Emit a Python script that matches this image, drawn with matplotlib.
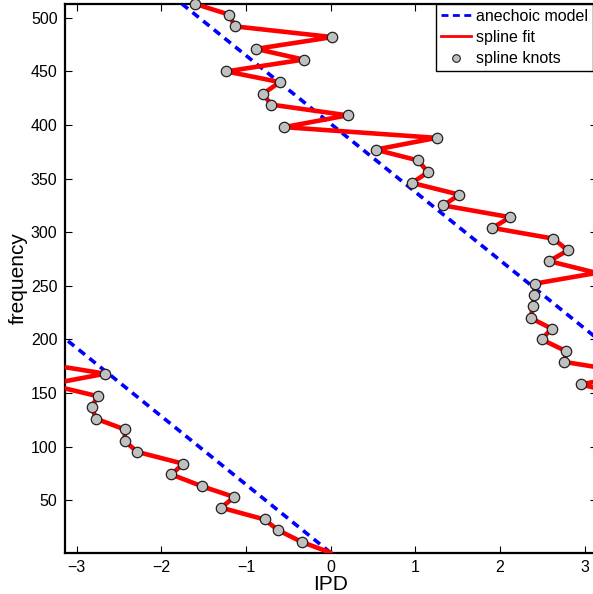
import numpy as np
import matplotlib
matplotlib.use("Agg")
import matplotlib.pyplot as plt
from matplotlib.lines import Line2D

plt.rcParams['font.family'] = ['Liberation Sans', 'DejaVu Sans']

# spline fit points (frequency bin, wrapped IPD)
# the first point (bin 1) is the fixed start, the rest are knots
knot_freq = [1, 11, 22, 32, 43, 53, 63, 74, 84, 95,
             105, 116, 126, 137, 147, 158, 168, 179, 189, 200,
             210, 220, 231, 241, 252, 262, 273, 283, 294, 304,
             314, 325, 335, 346, 356, 367, 377, 388, 398, 409,
             419, 429, 440, 450, 461, 471, 482, 492, 503, 513]
knot_ipd = [0.0, -0.34, -0.62, -0.78, -1.29, -1.14, -1.52, -1.88, -1.74, -2.28,
            -2.43, -2.43, -2.77, -2.82, -2.75, 2.95, -2.66, 2.76, 2.78, 2.49,
            2.61, 2.36, 2.39, 2.40, 2.41, 3.14, 2.58, 2.80, 2.63, 1.91,
            2.12, 1.33, 1.52, 0.96, 1.15, 1.03, 0.53, 1.25, -0.55, 0.20,
            -0.70, -0.80, -0.60, -1.23, -0.32, -0.88, 0.02, -1.13, -1.20, -1.60]

# anechoic model: IPD slope per frequency bin
anechoic_slope = -0.0157
freq_range = [1, 513]

fig = plt.figure(figsize=(5.93, 5.94), dpi=100)
ax = fig.add_axes([0.1088, 0.0695, 0.8975, 0.9240])

# anechoic model, wrapped to [-pi, pi]
f = np.arange(freq_range[0], freq_range[1] + 1, dtype=float)
a = np.angle(np.exp(1j * anechoic_slope * (f - freq_range[0])))
a[np.r_[False, np.abs(np.diff(a)) > np.pi]] = np.nan
ax.plot(a, f, color='#0000ff', lw=2.6, ls=(0, (2.2, 1.6)), zorder=3)

# spline fit: split into pieces where the phase wraps
pieces = [[(knot_ipd[0], knot_freq[0])]]
for i in range(1, len(knot_ipd)):
    x0, x1 = knot_ipd[i - 1], knot_ipd[i]
    shift = 2 * np.pi * np.round((x1 - x0) / (2 * np.pi))
    if shift == 0:
        pieces[-1].append((x1, knot_freq[i]))
    else:
        pieces[-1].append((x1 - shift, knot_freq[i]))
        pieces.append([(x0 + shift, knot_freq[i - 1]), (x1, knot_freq[i])])
for p in pieces:
    p = np.array(p)
    ax.plot(p[:, 0], p[:, 1], color='#ff0000', lw=3.3,
            solid_joinstyle='round', solid_capstyle='round', zorder=4)

kx = np.array(knot_ipd[1:])
kf = np.array(knot_freq[1:])
vis = np.abs(kx) < 3.13
ax.plot(kx[vis], kf[vis], 'o', ms=7.5, mfc='#c0c0c0', mec='#202020', mew=0.9,
        zorder=5, clip_on=False)

ax.set_xlim(-np.pi, np.pi)
ax.set_ylim(1, 513)
ax.set_xticks([-3, -2, -1, 0, 1, 2, 3])
ax.set_yticks([50, 100, 150, 200, 250, 300, 350, 400, 450, 500])
ax.tick_params(direction='in', top=True, right=True, length=5, width=0.8,
               labelsize=11.5, pad=5)
for s in ax.spines.values():
    s.set_linewidth(1.6)
ax.set_xlabel('IPD', fontsize=15, labelpad=0)
ax.set_ylabel('frequency', fontsize=15, labelpad=2)

handles = [Line2D([], [], color='#0000ff', lw=2, ls=(0, (2.5, 1.6))),
           Line2D([], [], color='#ff0000', lw=2),
           Line2D([], [], ls='none', marker='o', ms=5.5, mfc='#c0c0c0', mec='#202020', mew=0.8)]
leg = ax.legend(handles, ['anechoic model', 'spline fit', 'spline knots'],
                loc='upper right', bbox_to_anchor=(0.993, 1.0), fontsize=11.5,
                fancybox=False, framealpha=1, edgecolor='black',
                borderpad=0.3, labelspacing=0.4, handlelength=1.9,
                handletextpad=0.3, borderaxespad=0.0)
leg.get_frame().set_linewidth(1.0)

fig.savefig('out.png', dpi=100)
